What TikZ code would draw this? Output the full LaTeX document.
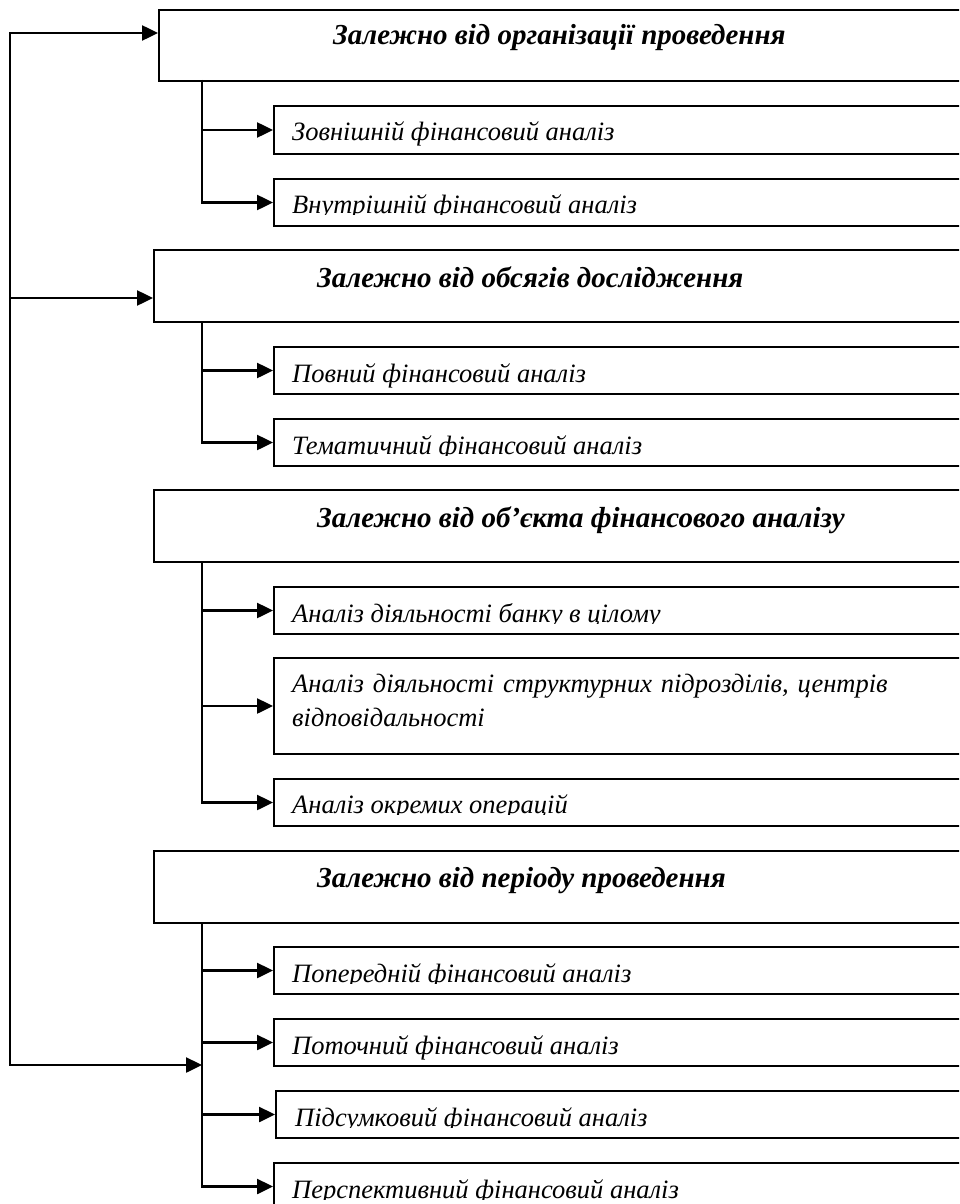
\documentclass[tikz,border=0pt]{standalone}
\usepackage{fontspec}
\setmainfont{Liberation Serif}
\usetikzlibrary{arrows.meta}

\begin{document}
\begin{tikzpicture}[x=1pt, y=-1pt,
  hbox/.style={draw, line width=2.2pt, anchor=north west, inner sep=0pt, minimum width=#1},
  sbox/.style={draw, line width=2pt, anchor=north west, inner sep=0pt, minimum width=#1},
  htext/.style={anchor=base west, inner sep=0pt, font=\fontsize{29}{33}\selectfont\bfseries\itshape},
  stext/.style={anchor=base west, inner sep=0pt, font=\fontsize{26.5}{34}\selectfont\itshape},
  arr/.style={line width=2.5pt, -{Triangle[length=16pt,width=15pt]}}]

\useasboundingbox (0,0) rectangle (959,1204);
\clip (0,0) rectangle (959,1204);

% category boxes (they run past the right margin)
\node[hbox=822pt, minimum height=71pt] (h1) at (158,9) {};
\node[hbox=827pt, minimum height=72pt] (h2) at (153,249) {};
\node[hbox=827pt, minimum height=72pt] (h3) at (153,489) {};
\node[hbox=827pt, minimum height=72pt] (h4) at (153,850) {};

\node[htext] (h1t) at (333,45) {Залежно від організації проведення};
\node[htext] (h2t) at (317,287) {Залежно від обсягів дослідження};
\node[htext] (h3t) at (317,527) {Залежно від об’єкта фінансового аналізу};
\node[htext] (h4t) at (317,887) {Залежно від періоду проведення};

% kinds of analysis
\node[sbox=707pt, minimum height=48pt] (z1) at (273,105) {};
\node[sbox=707pt, minimum height=47pt] (z2) at (273,178) {};
\node[sbox=707pt, minimum height=47pt] (z3) at (273,346) {};
\node[sbox=707pt, minimum height=47pt] (z4) at (273,418) {};
\node[sbox=707pt, minimum height=47pt] (o1) at (273,586) {};
\node[sbox=707pt, minimum height=96pt] (o2) at (273,657) {};
\node[sbox=707pt, minimum height=47pt] (o3) at (273,778) {};
\node[sbox=707pt, minimum height=47pt] (p1) at (273,946) {};
\node[sbox=707pt, minimum height=47pt] (p2) at (273,1018) {};
\node[sbox=705pt, minimum height=47pt] (p3) at (275,1090) {};
\node[sbox=707pt, minimum height=47pt] (p4) at (273,1162) {};

% texts, cut off at the lower inner margin of each box
\node[stext] (z1t) at (292,141) {Зовнішній фінансовий аналіз};
\begin{scope}
  \clip (273,178) rectangle (980,214);
  \node[stext] (z2t) at (292,213) {Внутрішній фінансовий аналіз};
\end{scope}
\node[stext] (z3t) at (292,382) {Повний фінансовий аналіз};
\begin{scope}
  \clip (273,418) rectangle (980,455);
  \node[stext] (z4t) at (292,454) {Тематичний фінансовий аналіз};
\end{scope}
\begin{scope}
  \clip (273,586) rectangle (980,623);
  \node[stext] (o1t) at (292,622) {Аналіз діяльності банку в цілому};
\end{scope}
\node[stext, text width=640pt, align=left] (o2t) at (292,692)
  {Аналіз діяльності структурних підрозділів, центрів\\відповідальності};
\begin{scope}
  \clip (273,778) rectangle (980,814);
  \node[stext] (o3t) at (292,813) {Аналіз окремих операцій};
\end{scope}
\begin{scope}
  \clip (273,946) rectangle (980,983);
  \node[stext] (p1t) at (292,982) {Попередній фінансовий аналіз};
\end{scope}
\node[stext] (p2t) at (292,1054) {Поточний фінансовий аналіз};
\begin{scope}
  \clip (275,1090) rectangle (980,1127);
  \node[stext] (p3t) at (295,1126) {Підсумковий фінансовий аналіз};
\end{scope}
\begin{scope}
  \clip (273,1162) rectangle (980,1199);
  \node[stext] (p4t) at (292,1198) {Перспективний фінансовий аналіз};
\end{scope}

% outer feed line
\coordinate (L1) at (10,33);
\coordinate (L2) at (10,298);
\coordinate (L3) at (10,1065);
\coordinate (T1) at (202,80);
\coordinate (T2) at (202,321);
\coordinate (T3) at (202,561);
\coordinate (T4) at (202,922);

\draw[arr] (L3) -- (L1) -- (L1 -| h1.west);
\draw[arr] (L2) -- (L2 -| h2.west);
\draw[arr] (L1) -- (L3) -- (L3 -| T4);

% branches of each category
\draw[arr] (T1) |- (z2.west);
\draw[arr] (T1 |- z1.west) -- (z1.west);

\draw[arr] (T2) |- (z4.west);
\draw[arr] (T2 |- z3.west) -- (z3.west);

\draw[arr] (T3) |- (o3.west);
\draw[arr] (T3 |- o1.west) -- (o1.west);
\draw[arr] (T3 |- o2.west) -- (o2.west);

\draw[arr] (T4) |- (p4.west);
\draw[arr] (T4 |- p1.west) -- (p1.west);
\draw[arr] (T4 |- p2.west) -- (p2.west);
\draw[arr] (T4 |- p3.west) -- (p3.west);
\end{tikzpicture}
\end{document}
